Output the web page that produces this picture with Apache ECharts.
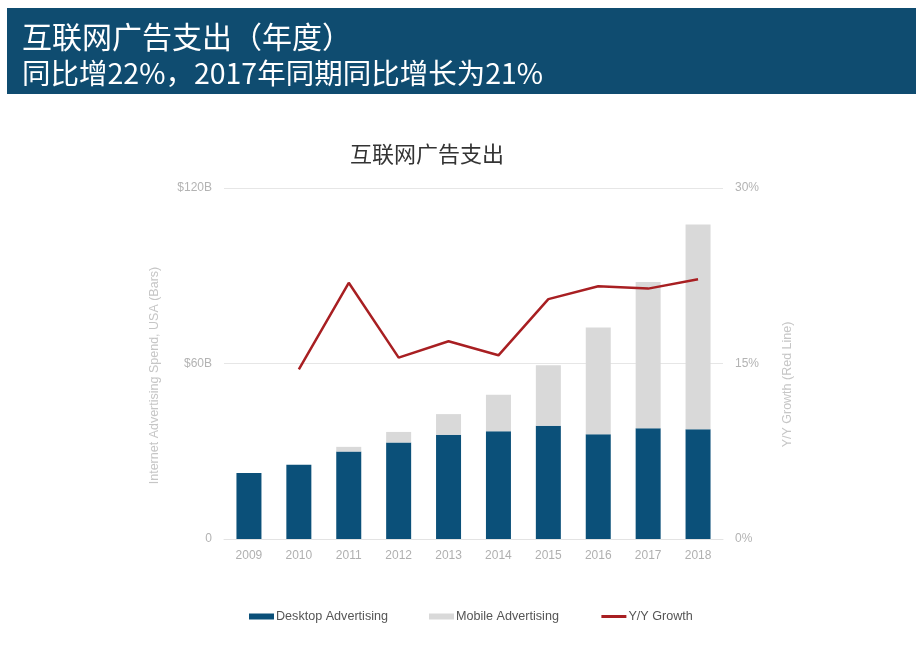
<!DOCTYPE html>
<html lang="zh">
<head>
    <meta charset="UTF-8">
    <title>互联网广告支出</title>
    <script src="https://cdn.jsdelivr.net/npm/echarts@6/dist/echarts.min.js"></script>
    <style>
        html, body { margin: 0; padding: 0; background: #fff; }
        #main { width: 916px; height: 656px; }
    </style>
</head>
<body>
<div id="main"></div>
<script>
    // data
    var years = ['2009', '2010', '2011', '2012', '2013', '2014', '2015', '2016', '2017', '2018'];
    var desktop = [22.6, 25.4, 29.9, 33.0, 35.6, 36.8, 38.7, 35.8, 37.9, 37.5];
    var mobile = [0, 0, 1.6, 3.6, 7.1, 12.5, 20.7, 36.5, 50.0, 70.0];
    var growth = [null, 14.5, 21.9, 15.5, 16.9, 15.7, 20.5, 21.6, 21.4, 22.2];

    var headLine1 = '互联网广告支出（年度）';
    var headLine2 = '同比增22%，2017年同期同比增长为21%';

    var cjk = '"Noto Sans CJK SC", "Noto Sans", sans-serif';
    var latin = '"Liberation Sans", Arial, sans-serif';

    var myChart = echarts.init(document.getElementById('main'));

    var option = {
        backgroundColor: '#fff',
        animation: false,
        title: {
            text: '互联网广告支出',
            left: 422,
            textAlign: 'center',
            top: 138,
            textStyle: { fontFamily: cjk, fontSize: 22, fontWeight: 'normal', color: '#333' }
        },
        graphic: [
            {
                type: 'rect',
                shape: { x: 7, y: 8, width: 909, height: 86 },
                style: { fill: '#0f4c70' }
            },
            {
                type: 'text',
                x: 22, y: 37,
                style: { text: headLine1, fill: '#fff', font: '30px ' + cjk, textVerticalAlign: 'middle' }
            },
            {
                type: 'text',
                x: 22, y: 73,
                style: { text: headLine2, fill: '#fff', font: '28.5px ' + cjk, textVerticalAlign: 'middle' }
            }
        ],
        legend: {
            left: 244,
            top: 605,
            itemWidth: 25,
            itemHeight: 6,
            itemGap: 41,
            textStyle: { fontFamily: latin, fontSize: 12.6, color: '#555', padding: [0, 0, 0, -3] },
            data: [
                { name: 'Desktop Advertising', icon: 'rect' },
                { name: 'Mobile Advertising', icon: 'rect' },
                {
                    name: 'Y/Y Growth',
                    itemStyle: { color: 'rgba(0,0,0,0)', borderWidth: 0 },
                    lineStyle: { color: '#a81f22', width: 3 }
                }
            ]
        },
        grid: { left: 224, right: 193, top: 188, bottom: 117 },
        xAxis: {
            type: 'category',
            data: years,
            axisTick: { show: false },
            axisLine: { lineStyle: { color: '#e3e3e3' } },
            axisLabel: { color: '#b0b0b0', fontFamily: latin, fontSize: 12, margin: 11 }
        },
        yAxis: [
            {
                type: 'value',
                min: 0, max: 120, interval: 60,
                name: 'Internet Advertising Spend, USA (Bars)',
                nameLocation: 'middle',
                nameRotate: 90,
                nameGap: 63,
                nameTextStyle: { color: '#c6c6c6', fontFamily: latin, fontSize: 12.5, padding: [0, 24, 0, 0] },
                axisLabel: {
                    color: '#b3b3b3', fontFamily: latin, fontSize: 12, margin: 12,
                    formatter: function (v) { return v === 0 ? '0' : '$' + v + 'B'; }
                },
                splitLine: { lineStyle: { color: '#e6e6e6' } }
            },
            {
                type: 'value',
                min: 0, max: 30, interval: 15,
                name: 'Y/Y Growth (Red Line)',
                nameLocation: 'middle',
                nameRotate: 90,
                nameGap: 58,
                nameTextStyle: { color: '#c6c6c6', fontFamily: latin, fontSize: 12.5, padding: [0, 42, 0, 0] },
                axisLabel: { color: '#b3b3b3', fontFamily: latin, fontSize: 12, margin: 12, formatter: '{value}%' },
                splitLine: { show: false }
            }
        ],
        series: [
            {
                name: 'Desktop Advertising',
                type: 'bar',
                stack: 'spend',
                barWidth: 25,
                itemStyle: { color: '#0b5079' },
                data: desktop
            },
            {
                name: 'Mobile Advertising',
                type: 'bar',
                stack: 'spend',
                barWidth: 25,
                itemStyle: { color: '#d9d9d9' },
                data: mobile
            },
            {
                name: 'Y/Y Growth',
                type: 'line',
                yAxisIndex: 1,
                symbol: 'none',
                lineStyle: { color: '#a81f22', width: 2.5 },
                itemStyle: { color: '#a81f22' },
                data: growth
            }
        ]
    };

    myChart.setOption(option);
</script>
</body>
</html>
